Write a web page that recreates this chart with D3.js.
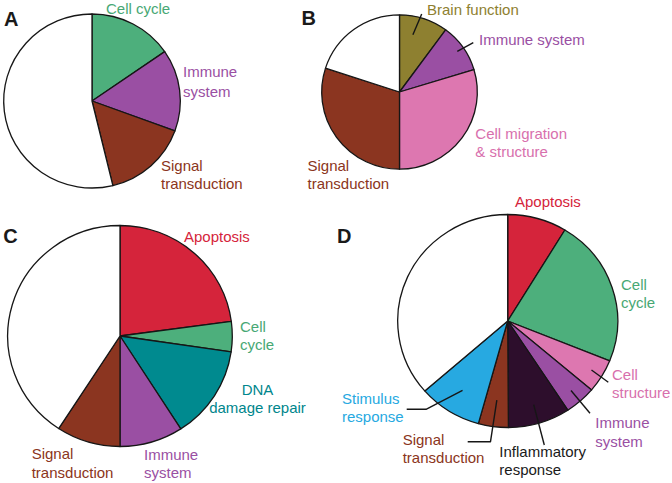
<!DOCTYPE html>
<html><head><meta charset="utf-8">
<script src="https://cdn.jsdelivr.net/npm/d3@7"></script>
<style>
body{margin:0;background:#fff}
svg{display:block;font-family:"Liberation Sans",Arial,Helvetica,sans-serif}
</style>
</head><body>
<svg id="chart" width="672" height="483"></svg>
<script>
// ---- data (percent of genes per category, clockwise from 12 o'clock) ----
const catsA = ["Cell cycle", "Immune system", "Signal transduction", "Other"];
const valsA = [15.4, 15.2, 15.6, 53.8];

const catsB = ["Brain function", "Immune system", "Cell migration & structure", "Signal transduction", "Other"];
const valsB = [10.1, 10.2, 29.7, 30.0, 20.0];

const catsC = ["Apoptosis", "Cell cycle", "DNA damage repair", "Immune system", "Signal transduction", "Other"];
const valsC = [22.9, 4.4, 13.6, 9.1, 9.2, 40.8];

const catsD = ["Apoptosis", "Cell cycle", "Cell structure", "Immune system", "Inflammatory response", "Signal transduction", "Stimulus response", "Other"];
const valsD = [8.7, 22.4, 5.1, 4.6, 9.1, 4.4, 9.3, 36.4];

const panelLetters = ["A", "B", "C", "D"];

// ---- styles ----
const fillColor = {
  "Cell cycle": "#4daf7c",
  "Immune system": "#9a4fa3",
  "Signal transduction": "#8b3520",
  "Brain function": "#8e8030",
  "Cell migration & structure": "#dd77b0",
  "Cell structure": "#dd77b0",
  "Apoptosis": "#d5243b",
  "DNA damage repair": "#008a8f",
  "Inflammatory response": "#2d0e2c",
  "Stimulus response": "#27a9e1",
  "Other": "#ffffff"
};
const textColor = Object.assign({}, fillColor, {
  "Inflammatory response": "#1a1a1a",
  "DNA damage repair": "#00868c",
  "Cell cycle": "#47a874",
  "Cell migration & structure": "#d870ad",
  "Cell structure": "#d870ad"
});

// ---- layout ----
const panels = [
  { cats: catsA, vals: valsA, letter: [4, 25.5], cx: 92, cy: 101, rx: 88.3, ry: 87,
    labels: [
      { cat: "Cell cycle", lines: ["Cell cycle"], x: 106, y: 14 },
      { cat: "Immune system", lines: ["Immune", "system"], x: 183, y: 77.3, lh: 19.4 },
      { cat: "Signal transduction", lines: ["Signal", "transduction"], x: 161, y: 170.7 }
    ]},
  { cats: catsB, vals: valsB, letter: [301.5, 25], cx: 399.5, cy: 92, rx: 77.8, ry: 77.2,
    labels: [
      { cat: "Brain function", lines: ["Brain function"], x: 427, y: 15,
        leader: { t: 0.36, f: 0.76, pts: [[421.7, 14]] } },
      { cat: "Immune system", lines: ["Immune system"], x: 479, y: 45,
        leader: { t: 0.5, f: 0.91, pts: [[473.3, 42.7]] } },
      { cat: "Cell migration & structure", lines: ["Cell migration", "& structure"], x: 475.3, y: 139 },
      { cat: "Signal transduction", lines: ["Signal", "transduction"], x: 307.5, y: 171 }
    ]},
  { cats: catsC, vals: valsC, letter: [3.3, 243.3], cx: 120, cy: 336, rx: 112.3, ry: 110.5,
    labels: [
      { cat: "Apoptosis", lines: ["Apoptosis"], x: 184, y: 241.7 },
      { cat: "Cell cycle", lines: ["Cell", "cycle"], x: 240, y: 331.7 },
      { cat: "DNA damage repair", lines: ["DNA", "damage repair"], x: 257.5, y: 395, anchor: "middle" },
      { cat: "Immune system", lines: ["Immune", "system"], x: 144, y: 460 },
      { cat: "Signal transduction", lines: ["Signal", "transduction"], x: 31.7, y: 459.3 }
    ]},
  { cats: catsD, vals: valsD, letter: [337, 243.3], cx: 507.7, cy: 321, rx: 110, ry: 106.5,
    labels: [
      { cat: "Apoptosis", lines: ["Apoptosis"], x: 515, y: 206.7 },
      { cat: "Cell cycle", lines: ["Cell", "cycle"], x: 621, y: 290 },
      { cat: "Cell structure", lines: ["Cell", "structure"], x: 612, y: 380,
        leader: { t: 0.5, f: 0.89, pts: [[608.3, 382.3]] } },
      { cat: "Immune system", lines: ["Immune", "system"], x: 595.3, y: 428.3,
        leader: { t: 0.5, f: 0.87, pts: [[590, 413.3]] } },
      { cat: "Inflammatory response", lines: ["Inflammatory", "response"], x: 499.3, y: 457,
        leader: { t: 0.5, f: 0.82, pts: [[544.3, 445]] } },
      { cat: "Signal transduction", lines: ["Signal", "transduction"], x: 402.7, y: 445,
        leader: { t: 0.5, f: 0.75, pts: [[490.5, 441.7], [467.7, 441.7]] } },
      { cat: "Stimulus response", lines: ["Stimulus", "response"], x: 342, y: 404,
        leader: { t: 0.5, f: 0.77, pts: [[426, 409.3], [406.7, 409.3]] } }
    ]}
];

const svg = d3.select("#chart");
const pie = d3.pie().sort(null).value(d => d.v);

panels.forEach((p, i) => {
  const data = p.cats.map((c, k) => ({ c, v: p.vals[k] }));
  const arcs = pie(data);
  const sx = p.rx / p.ry;
  const arc = d3.arc().innerRadius(0).outerRadius(p.ry);

  const g = svg.append("g")
    .attr("transform", `translate(${p.cx},${p.cy}) scale(${sx},1)`);
  g.selectAll("path").data(arcs).join("path")
    .attr("d", arc)
    .attr("fill", d => fillColor[d.data.c])
    .attr("stroke", "#161616")
    .attr("stroke-width", 1.3)
    .attr("stroke-linejoin", "round")
    .attr("vector-effect", "non-scaling-stroke");

  // panel letter
  svg.append("text")
    .attr("x", p.letter[0]).attr("y", p.letter[1])
    .attr("font-size", 20).attr("font-weight", "bold").attr("fill", "#1a1a1a")
    .text(panelLetters[i]);

  // labels + leaders
  p.labels.forEach(l => {
    const a = arcs.find(d => d.data.c === l.cat);
    if (l.leader) {
      const ang = a.startAngle + (a.endAngle - a.startAngle) * l.leader.t;
      const r = p.ry * l.leader.f;
      const start = [p.cx + Math.sin(ang) * r * sx, p.cy - Math.cos(ang) * r];
      svg.append("path")
        .attr("d", d3.line()([start, ...l.leader.pts]))
        .attr("fill", "none").attr("stroke", "#161616")
        .attr("stroke-width", 1.4).attr("stroke-linejoin", "round");
    }
    const t = svg.append("text")
      .attr("x", l.x).attr("y", l.y)
      .attr("font-size", 15)
      .attr("text-anchor", l.anchor || "start")
      .attr("fill", textColor[l.cat]);
    l.lines.forEach((s, k) => {
      t.append("tspan").attr("x", l.x).attr("dy", k === 0 ? 0 : (l.lh || 18.3)).text(s);
    });
  });
});
</script>
</body></html>
